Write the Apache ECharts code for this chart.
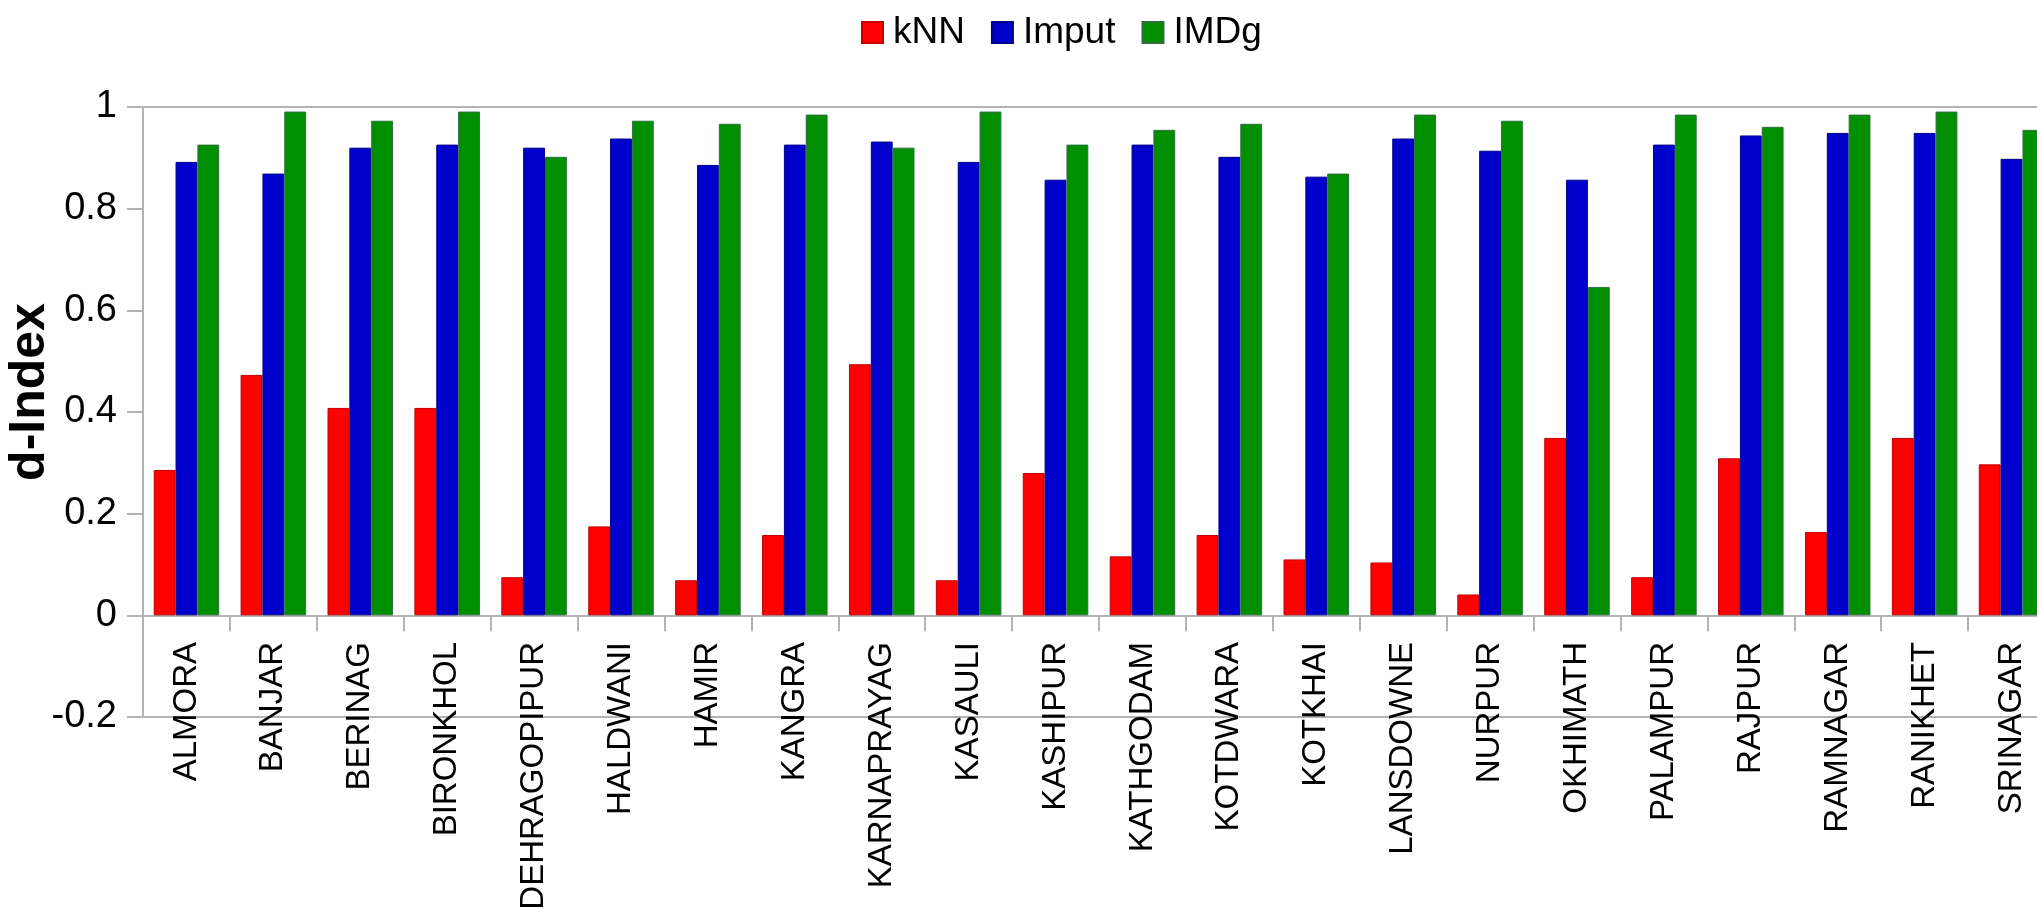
<!DOCTYPE html>
<html>
<head>
<meta charset="utf-8">
<title>d-Index by station</title>
<script src="https://cdn.jsdelivr.net/npm/echarts@6/dist/echarts.min.js"></script>
<style>
  html, body { margin: 0; padding: 0; background: #ffffff; }
  #chart { width: 2037px; height: 909px; }
</style>
</head>
<body>
<div id="chart"></div>
<script>
// Stations along the category axis
var stations = ['ALMORA', 'BANJAR', 'BERINAG', 'BIRONKHOL', 'DEHRAGOPIPUR', 'HALDWANI',
  'HAMIR', 'KANGRA', 'KARNAPRAYAG', 'KASAULI', 'KASHIPUR', 'KATHGODAM', 'KOTDWARA',
  'KOTKHAI', 'LANSDOWNE', 'NURPUR', 'OKHIMATH', 'PALAMPUR', 'RAJPUR', 'RAMNAGAR',
  'RANIKHET', 'SRINAGAR'];

// d-Index per method
var knn = [0.286, 0.473, 0.408, 0.408, 0.075, 0.175, 0.069, 0.158, 0.494, 0.069, 0.280,
  0.116, 0.158, 0.110, 0.104, 0.041, 0.349, 0.075, 0.309, 0.164, 0.349, 0.297];
var imput = [0.892, 0.869, 0.920, 0.926, 0.920, 0.938, 0.886, 0.926, 0.932, 0.892, 0.857,
  0.926, 0.902, 0.863, 0.938, 0.914, 0.857, 0.926, 0.944, 0.949, 0.949, 0.898];
var imdg = [0.926, 0.991, 0.973, 0.991, 0.902, 0.973, 0.967, 0.985, 0.920, 0.991, 0.926,
  0.955, 0.967, 0.869, 0.985, 0.973, 0.646, 0.985, 0.961, 0.985, 0.991, 0.955];

// Value-axis ticks
var yTicks = [-0.2, 0, 0.2, 0.4, 0.6, 0.8, 1];

var FONT = '"Liberation Sans", Arial, sans-serif';
var AXIS_GREY = '#b3b3b3';

var chart = echarts.init(document.getElementById('chart'), null, { renderer: 'canvas' });

function barSeries(name, data, color, edge) {
  return {
    name: name,
    type: 'bar',
    data: data,
    barGap: '0%',
    barCategoryGap: '24.6%',
    itemStyle: { color: color, borderColor: edge, borderWidth: 1 },
    emphasis: { disabled: true }
  };
}

chart.setOption({
  animation: false,
  backgroundColor: '#ffffff',
  textStyle: { fontFamily: FONT },
  legend: {
    left: 856,
    top: 9,
    itemWidth: 21,
    itemHeight: 21,
    itemGap: 26,
    icon: 'rect',
    textStyle: { fontFamily: FONT, fontSize: 37, color: '#000000', padding: [0, 0, 0, 5] },
    data: ['kNN', 'Imput', 'IMDg']
  },
  grid: {
    left: 143,
    top: 107,
    width: 1912,
    height: 610,
    outerBoundsMode: 'none',
    containLabel: false,
    show: true,
    borderColor: AXIS_GREY,
    borderWidth: 2,
    backgroundColor: 'transparent'
  },
  xAxis: {
    type: 'category',
    data: stations,
    axisLine: { onZero: true, lineStyle: { color: AXIS_GREY, width: 2 } },
    axisTick: { show: true, length: 16, alignWithLabel: false, lineStyle: { color: AXIS_GREY, width: 2 } },
    axisLabel: {
      interval: 0,
      rotate: 90,
      // labels hang just under the zero line, above the frame's bottom edge
      margin: -75,
      fontFamily: FONT,
      fontSize: 33,
      color: '#000000'
    },
    splitLine: { show: false }
  },
  yAxis: {
    type: 'value',
    min: yTicks[0],
    max: yTicks[yTicks.length - 1],
    interval: yTicks[2] - yTicks[1],
    name: 'd-Index',
    nameLocation: 'middle',
    nameGap: 88,
    nameMoveOverlap: false,
    nameRotate: 90,
    nameTextStyle: {
      fontFamily: FONT,
      fontSize: 50,
      fontWeight: 'bold',
      color: '#000000',
      padding: [0, 0, 0, 40]
    },
    axisLine: { show: true, lineStyle: { color: AXIS_GREY, width: 2 } },
    axisTick: { show: true, length: 16, lineStyle: { color: AXIS_GREY, width: 2 } },
    axisLabel: {
      margin: 26,
      fontFamily: FONT,
      fontSize: 38,
      color: '#000000',
      formatter: function (v) { return String(Number(v.toFixed(2))); }
    },
    splitLine: { show: false }
  },
  series: [
    barSeries('kNN', knn, '#ff0000', '#c40000'),
    barSeries('Imput', imput, '#0000cc', '#00008a'),
    barSeries('IMDg', imdg, '#008f00', '#2f6f3f')
  ]
});
</script>
</body>
</html>
